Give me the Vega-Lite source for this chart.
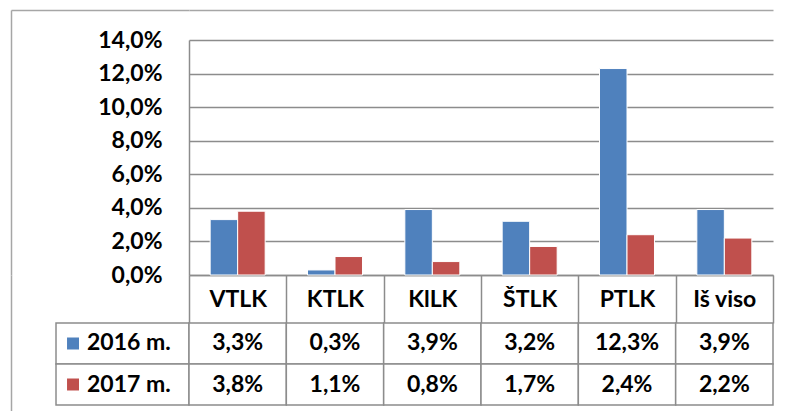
{
  "$schema": "https://vega.github.io/schema/vega-lite/v6.json",
  "padding": {"left": 11, "top": 10, "right": 15, "bottom": 0},
  "background": "white",
  "datasets": {
    "rates": [
      {"cat": "VTLK", "year": "2016 m.", "value": 0.033},
      {"cat": "VTLK", "year": "2017 m.", "value": 0.038},
      {"cat": "KTLK", "year": "2016 m.", "value": 0.003},
      {"cat": "KTLK", "year": "2017 m.", "value": 0.011},
      {"cat": "KlLK", "year": "2016 m.", "value": 0.039},
      {"cat": "KlLK", "year": "2017 m.", "value": 0.008},
      {"cat": "ŠTLK", "year": "2016 m.", "value": 0.032},
      {"cat": "ŠTLK", "year": "2017 m.", "value": 0.017},
      {"cat": "PTLK", "year": "2016 m.", "value": 0.123},
      {"cat": "PTLK", "year": "2017 m.", "value": 0.024},
      {"cat": "Iš viso", "year": "2016 m.", "value": 0.039},
      {"cat": "Iš viso", "year": "2017 m.", "value": 0.022}
    ],
    "years": [{"year": "2016 m."}, {"year": "2017 m."}]
  },
  "config": {
    "locale": {"number": {"decimal": ",", "thousands": " ", "grouping": [3], "currency": ["", " €"]}},
    "view": {"stroke": null},
    "axis": {"labelFont": "Lato", "labelFontSize": 23, "labelFontWeight": "bold", "labelColor": "#000000"},
    "text": {"font": "Lato", "fontSize": 23, "fontWeight": "bold", "color": "#000000"}
  },
  "bounds": "flush",
  "spacing": 0,
  "columns": 2,
  "concat": [
    {
      "width": 178,
      "height": 265,
      "data": {"name": "years"},
      "mark": {"type": "point", "opacity": 0, "size": 1},
      "encoding": {
        "x": {"datum": 0, "type": "quantitative", "scale": {"domain": [-1, 1]}, "axis": {"orient": "top", "labels": false, "ticks": false, "grid": false, "domain": true, "domainColor": "#a6a6a6", "domainWidth": 1.5, "title": null}},
        "y": {"datum": 0, "type": "quantitative", "scale": {"domain": [-1, 1]}, "axis": {"orient": "left", "labels": false, "ticks": false, "grid": false, "domain": true, "domainColor": "#a6a6a6", "domainWidth": 1.5, "title": null}}
      }
    },
    {
      "width": 584,
      "height": 265,
      "data": {"name": "rates"},
      "layer": [
        {
          "mark": {"type": "bar", "stroke": "white", "strokeWidth": 1},
          "encoding": {
            "x": {
              "field": "cat", "type": "nominal",
              "sort": ["VTLK", "KTLK", "KlLK", "ŠTLK", "PTLK", "Iš viso"],
              "scale": {"paddingInner": 0, "paddingOuter": 0},
              "axis": {"orient": "bottom", "title": null, "labelAngle": 0, "tickBand": "extent", "ticks": true, "tickSize": 48, "tickColor": "#8c8c8c", "tickWidth": 1.5, "domain": true, "domainColor": "#8c8c8c", "domainWidth": 1.5, "labelPadding": -24, "labelBaseline": "middle", "grid": false}
            },
            "xOffset": {"field": "year", "type": "nominal", "scale": {"paddingInner": 0, "paddingOuter": 0.77}},
            "y": {
              "field": "value", "type": "quantitative",
              "scale": {"domain": [0, 0.14], "range": [265, 30], "nice": false, "zero": true},
              "axis": {"values": [0, 0.02, 0.04, 0.06, 0.08, 0.1, 0.12, 0.14], "format": ".1%", "title": null, "ticks": false, "tickSize": 0, "labelPadding": 27, "grid": true, "gridColor": "#8c8c8c", "gridWidth": 1.5, "domain": true, "domainColor": "#8c8c8c", "domainWidth": 1.5}
            },
            "color": {"field": "year", "type": "nominal", "scale": {"domain": ["2016 m.", "2017 m."], "range": ["#4F81BD", "#C0504D"]}, "legend": null}
          }
        },
        {
          "mark": {"type": "tick", "opacity": 0},
          "encoding": {
            "x": {
              "field": "cat", "type": "nominal",
              "sort": ["VTLK", "KTLK", "KlLK", "ŠTLK", "PTLK", "Iš viso"],
              "axis": {"orient": "top", "labels": false, "ticks": false, "domain": true, "domainColor": "#a6a6a6", "domainWidth": 1.5, "title": null, "grid": false}
            }
          }
        }
      ],
      "resolve": {"axis": {"x": "independent"}}
    },
    {
      "width": 178,
      "height": 136,
      "data": {"name": "years"},
      "encoding": {
        "x": {"datum": "legend", "type": "nominal", "scale": {"paddingInner": 0, "paddingOuter": 0.1692, "align": 1}, "axis": null},
        "y": {"field": "year", "type": "nominal", "scale": {"domain": ["2016 m.", "2017 m."], "paddingInner": 0, "paddingOuter": 0.6585, "align": 0.8889}, "axis": {"orient": "left", "labels": false, "ticks": false, "domain": true, "domainColor": "#a6a6a6", "domainWidth": 1.5, "title": null, "grid": false}}
      },
      "layer": [
        {"mark": {"type": "rect", "fill": "white", "stroke": "#8c8c8c", "strokeWidth": 1.5}},
        {
          "mark": {"type": "square", "size": 144, "opacity": 1},
          "encoding": {
            "x": {"datum": "legend", "type": "nominal", "bandPosition": 0.128},
            "color": {"field": "year", "type": "nominal", "scale": {"domain": ["2016 m.", "2017 m."], "range": ["#4F81BD", "#C0504D"]}, "legend": null}
          }
        },
        {
          "mark": {"type": "text", "align": "left", "baseline": "middle"},
          "encoding": {
            "x": {"datum": "legend", "type": "nominal", "bandPosition": 0.233},
            "text": {"field": "year"}
          }
        }
      ]
    },
    {
      "width": 584,
      "height": 136,
      "data": {"name": "rates"},
      "encoding": {
        "x": {"field": "cat", "type": "nominal", "sort": ["VTLK", "KTLK", "KlLK", "ŠTLK", "PTLK", "Iš viso"], "scale": {"paddingInner": 0, "paddingOuter": 0}, "axis": null},
        "y": {"field": "year", "type": "nominal", "scale": {"domain": ["2016 m.", "2017 m."], "paddingInner": 0, "paddingOuter": 0.6585, "align": 0.8889}, "axis": null}
      },
      "layer": [
        {"mark": {"type": "rect", "fill": "white", "stroke": "#8c8c8c", "strokeWidth": 1.5}},
        {
          "mark": {"type": "text", "baseline": "middle", "align": "center"},
          "encoding": {"text": {"field": "value", "type": "quantitative", "format": ".1%"}}
        }
      ]
    }
  ]
}
